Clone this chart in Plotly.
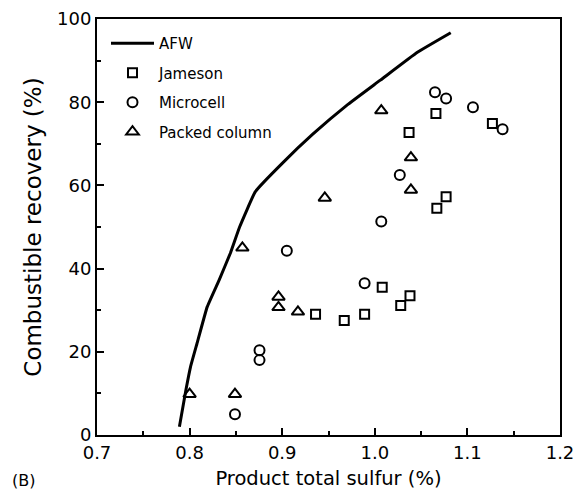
import plotly.graph_objects as go

# AFW curve
afw_x = [0.789, 0.796, 0.801, 0.808, 0.819, 0.832, 0.844, 0.854, 0.871, 0.900, 0.933, 0.970, 1.006, 1.046, 1.082]
afw_y = [2.0, 10.8, 16.4, 22.0, 30.8, 37.3, 43.7, 50.0, 58.5, 65.3, 72.3, 79.3, 85.3, 92.0, 96.7]

# Jameson
jam_x = [1.066, 1.037, 1.127, 1.077, 1.067, 1.008, 1.038, 1.028, 0.936, 0.967, 0.989]
jam_y = [77.3, 72.7, 74.9, 57.3, 54.5, 35.5, 33.5, 31.1, 29.0, 27.5, 29.0]

# Microcell
mic_x = [1.065, 1.077, 1.106, 1.138, 1.027, 1.007, 0.905, 0.989, 0.8755, 0.8755, 0.849]
mic_y = [82.4, 80.9, 78.8, 73.5, 62.5, 51.3, 44.3, 36.5, 20.4, 18.0, 5.0]

# Packed column
pc_x = [1.007, 1.039, 1.039, 0.946, 0.857, 0.896, 0.896, 0.917, 0.800, 0.849]
pc_y = [78.0, 66.7, 58.9, 57.0, 45.0, 33.2, 30.7, 29.6, 9.8, 9.8]

x_ticks = [0.7, 0.8, 0.9, 1.0, 1.1, 1.2]
x_ticklabels = ["0.7", "0.8", "0.9", "1.0", "1.1", "1.2"]
y_ticks = [0, 20, 40, 60, 80, 100]

FONT = "DejaVu Sans"
OFF = 8  # page body margin
W, H = 587 - OFF, 490 - OFF
L, T = 97 - OFF, 19 - OFF
R, B = 27, 55
PW, PH = W - L - R, H - T - B

def px_x(p):  # page pixel -> paper x
    return (p - OFF - L) / PW

def px_y(p):  # page pixel -> paper y
    return 1 - (p - OFF - T) / PH

fig = go.Figure()
fig.add_trace(go.Scatter(x=afw_x, y=afw_y, mode="lines", name="AFW",
                         line=dict(color="black", width=3, shape="spline", smoothing=0.3),
                         legendgroup="a"))
fig.add_trace(go.Scatter(x=jam_x, y=jam_y, mode="markers", name="Jameson",
                         marker=dict(symbol="square-open", size=9, color="black",
                                     line=dict(width=2, color="black")),
                         legendgroup="b"))
fig.add_trace(go.Scatter(x=mic_x, y=mic_y, mode="markers", name="Microcell",
                         marker=dict(symbol="circle-open", size=10, color="black",
                                     line=dict(width=2, color="black")),
                         legendgroup="c"))
fig.add_trace(go.Scatter(x=pc_x, y=pc_y, mode="markers", name="Packed column",
                         marker=dict(symbol="triangle-up-open", size=11, color="black",
                                     line=dict(width=2, color="black")),
                         legendgroup="d"))

fig.update_layout(
    width=W, height=H,
    margin=dict(l=L, r=R, t=T, b=B, autoexpand=False),
    paper_bgcolor="white", plot_bgcolor="white",
    font=dict(family=FONT, color="black", size=17),
    legend=dict(x=px_x(106), y=px_y(27), xanchor="left", yanchor="top",
                bgcolor="rgba(0,0,0,0)", font=dict(size=15, family=FONT),
                tracegroupgap=7, traceorder="grouped", itemwidth=43),
    xaxis=dict(range=[0.7, 1.2], tickvals=x_ticks, ticktext=x_ticklabels,
               ticks="inside", ticklen=7, tickwidth=2, tickcolor="black",
               showline=True, linewidth=2, linecolor="black", mirror=True,
               showgrid=False, zeroline=False, automargin=False,
               tickfont=dict(size=18, family=FONT),
               minor=dict(dtick=0.05, ticks="inside", ticklen=4, tickwidth=2, tickcolor="black", showgrid=False),
               title=dict(text="Product total sulfur (%)", font=dict(size=19.5, family=FONT))),
    yaxis=dict(range=[0, 100], tickvals=y_ticks,
               ticks="inside", ticklen=7, tickwidth=2, tickcolor="black",
               showline=True, linewidth=2, linecolor="black", mirror=True,
               showgrid=False, zeroline=False, automargin=False,
               tickfont=dict(size=18, family=FONT),
               minor=dict(dtick=10, ticks="inside", ticklen=4, tickwidth=2, tickcolor="black", showgrid=False),
               title=dict(text="Combustible recovery (%)", font=dict(size=23, family=FONT), standoff=9)),
    annotations=[dict(text="(B)", x=px_x(10), y=px_y(480), xref="paper", yref="paper",
                      showarrow=False, xanchor="left", yanchor="middle",
                      font=dict(size=16, family=FONT))],
)

fig.write_html("out.html")
